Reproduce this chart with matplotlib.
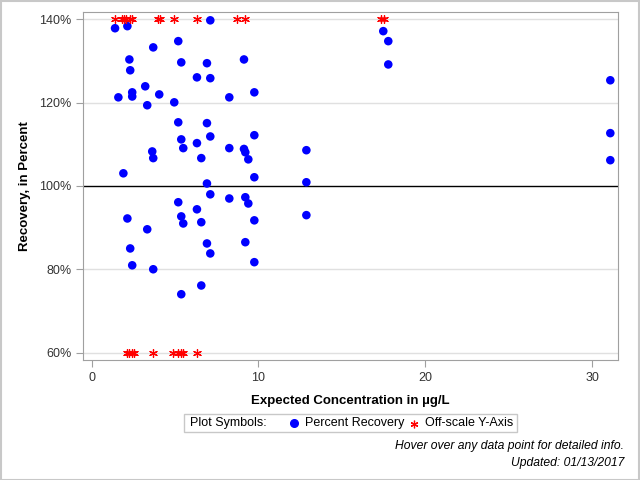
import matplotlib.pyplot as plt
from matplotlib.lines import Line2D
from matplotlib.patches import Rectangle

plt.rcParams['font.family'] = ['Liberation Sans', 'DejaVu Sans']

# Percent recovery vs expected concentration (ug/L)
conc = [1.40, 2.14, 7.11, 5.19, 3.69, 2.26, 5.37, 6.91, 9.13, 2.31,
        6.31, 7.11, 3.21, 2.43, 2.43, 4.05, 1.60, 8.25, 9.75, 3.33,
        4.95, 5.19, 6.91, 5.37, 7.11, 9.75, 6.31, 5.49, 8.25, 3.63,
        9.13, 9.21, 3.69, 6.57, 9.39, 1.90, 9.75, 6.91, 7.11, 8.25,
        9.21, 9.39, 5.19, 6.31, 5.37, 5.49, 6.57, 9.75, 2.14, 3.33,
        2.31, 6.91, 9.21, 7.11, 2.43, 3.69, 9.75, 6.57, 5.37,
        17.48, 17.78, 17.78, 31.09, 31.09, 31.09, 12.87, 12.87, 12.87]
recovery = [137.9, 138.4, 139.8, 134.8, 133.3, 130.4, 129.7, 129.5, 130.4, 127.8,
            126.1, 125.9, 123.95, 122.5, 121.5, 122.0, 121.3, 121.3, 122.5, 119.4,
            120.1, 115.3, 115.1, 111.2, 111.9, 112.2, 110.3, 109.1, 109.1, 108.3,
            108.9, 108.1, 106.7, 106.7, 106.4, 103.05, 102.1, 100.6, 98.0, 97.0,
            97.3, 95.8, 96.1, 94.4, 92.7, 91.0, 91.3, 91.75, 92.2, 89.6,
            85.0, 86.2, 86.5, 83.8, 80.95, 80.0, 81.7, 76.1, 74.0,
            137.2, 134.8, 129.2, 125.4, 112.7, 106.2, 108.6, 100.9, 93.0]

# off-scale points (plotted at the axis limits)
high_conc = [1.40, 1.83, 1.95, 2.07, 2.30, 2.42, 3.99, 4.12, 4.93, 6.31,
             8.69, 9.19, 17.37, 17.52]
low_conc = [2.10, 2.25, 2.42, 2.54, 3.69, 4.89, 5.19, 5.34, 5.49, 6.33]

fig = plt.figure(figsize=(6.4, 4.8), dpi=100)
ax = fig.add_axes([0.1297, 0.25, 0.8359, 0.725])

grey = '#a0a0a0'
for v in [60, 80, 120, 140]:
    ax.axhline(v, color='#e0e0e0', lw=1, zorder=0)
ax.axhline(100, color='black', lw=1, zorder=1)

ax.scatter(conc, recovery, s=38, color='#0000ff', edgecolors='none', zorder=3)
ast = (6, 2, 0)
ax.scatter(high_conc, [140] * len(high_conc), marker=ast, s=32, color='#ff0000',
           linewidths=0.9, zorder=3)
ax.scatter(low_conc, [60] * len(low_conc), marker=ast, s=32, color='#ff0000',
           linewidths=0.9, zorder=3)

ax.set_xlim(-0.52, 31.55)
ax.set_ylim(58.2, 141.8)
ax.set_xticks([0, 10, 20, 30])
ax.set_yticks([60, 80, 100, 120, 140])
ax.set_yticklabels(['60%', '80%', '100%', '120%', '140%'])
for s in ax.spines.values():
    s.set_color(grey)
ax.tick_params(colors=grey, labelcolor='#333333', labelsize=9, length=5)

ax.set_xlabel('Expected Concentration in µg/L', fontsize=9.5, fontweight='bold', labelpad=8)
ax.set_ylabel('Recovery, in Percent', fontsize=9.5, fontweight='bold', labelpad=6)

# legend box
fig.patches.append(Rectangle((184 / 640, 1 - 432 / 480), 333 / 640, 18 / 480,
                             transform=fig.transFigure, fill=False,
                             edgecolor='#c8c8c8', lw=1))
fig.text(190 / 640, 1 - 423 / 480, 'Plot Symbols:', fontsize=9, va='center')
fig.add_artist(Line2D([294 / 640], [1 - 423 / 480], marker='o', ms=5.5,
                      color='#0000ff', transform=fig.transFigure, ls='none'))
fig.text(305 / 640, 1 - 423 / 480, 'Percent Recovery', fontsize=9, va='center')
fig.add_artist(Line2D([414 / 640], [1 - 424 / 480], marker=ast, ms=5.5, mew=0.9,
                      color='#ff0000', transform=fig.transFigure, ls='none'))
fig.text(425 / 640, 1 - 423 / 480, 'Off-scale Y-Axis', fontsize=9, va='center')

fig.text(624 / 640, 1 - 446 / 480, 'Hover over any data point for detailed info.',
         fontsize=8.7, style='italic', ha='right', va='center')
fig.text(624 / 640, 1 - 463 / 480, 'Updated: 01/13/2017',
         fontsize=8.7, style='italic', ha='right', va='center')

# outer border
fig.patches.append(Rectangle((0.001, 0.001), 0.998, 0.997, transform=fig.transFigure,
                             fill=False, edgecolor='#c8c8c8', lw=1.5))

fig.savefig('out.png', dpi=100)
